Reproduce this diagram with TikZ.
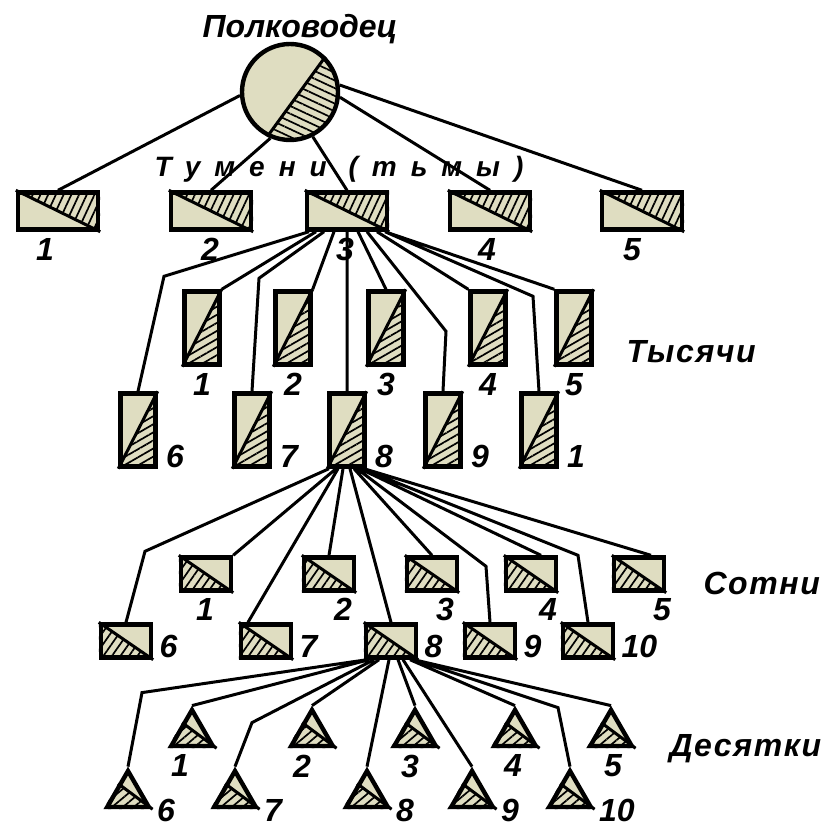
\documentclass[tikz,border=0pt]{standalone}
\usepackage{fontspec}
\setmainfont{Liberation Sans}
\usepackage{tikz}
\usetikzlibrary{shapes.geometric,patterns.meta,calc}

\definecolor{beige}{RGB}{223,221,193}

\tikzset{
  lbl/.style={font=\bfseries\itshape\fontsize{32}{32}\selectfont\addfontfeature{LetterSpace=5}, inner sep=0pt},
  num/.style={font=\bfseries\itshape\fontsize{32}{32}\selectfont, inner sep=0pt},
  unit/.style={draw, line width=4.4pt, fill=beige, inner sep=0pt},
  chief/.style={unit, circle, minimum size=96pt},
  tumen/.style={unit, minimum width=80pt, minimum height=37pt},
  thousand/.style={unit, minimum width=35pt, minimum height=73pt},
  hundred/.style={unit, minimum width=50pt, minimum height=33pt},
  ten/.style={unit, regular polygon, regular polygon sides=3, minimum size=48pt},
  hatch/.style={pattern={Lines[angle=#1,distance=7pt,line width=1.7pt]}},
}

\begin{document}
\begin{tikzpicture}[x=1pt,y=-1pt,line width=3pt]
  \useasboundingbox (0,0) rectangle (825,828);

  % commander
  \node[lbl, anchor=base] (chiefl) at (300,37) {\addfontfeature{LetterSpace=0}Полководец};
  \node[chief] (chief) at (290,92) {};
  \begin{scope}
    \clip (chief.center) circle[radius=47];
    \path[hatch=-25] ($(chief.45)!-0.5!(chief.243)$) -- ($(chief.45)!1.5!(chief.243)$)
      -- ($(chief.center)+(300,300)$) -- cycle;
  \end{scope}
  \draw (chief.45) -- (chief.243);

  % tumens
  \node[lbl, anchor=base west, font=\bfseries\itshape\fontsize{28}{28}\selectfont\addfontfeature{LetterSpace=50}]
    (tumenl) at (153,176) {Тумени (тьмы)};
  \foreach \i/\x/\dx in {1/58/-13, 2/211/-1, 3/347/-2, 4/490/-3, 5/642/-10} {
    \node[tumen] (t\i) at (\x,211) {};
    \path[hatch=65] (t\i.north west) -- (t\i.north east) -- (t\i.south east) -- cycle;
    \draw (t\i.north west) -- (t\i.south east);
    \node[num, anchor=north, xshift=\dx, yshift=-5pt] (tl\i) at (t\i.south) {\i};
  }
  \draw
    (chief.184) -- (t1.north)
    (chief.247) -- (t2.north)
    (chief.297) -- (t3.north)
    (chief.354) -- (t4.north)
    (chief.8) -- (t5.north);

  % thousands
  \node[lbl, anchor=base west] (thousandl) at (625,362) {Тысячи};
  \foreach \i/\x in {1/202, 2/293, 3/386, 4/488, 5/574} {
    \node[thousand] (k\i) at (\x,328) {};
    \node[num, anchor=north, yshift=-5pt] (kl\i) at (k\i.south) {\i};
  }
  \foreach \i/\x/\t in {6/138/6, 7/252/7, 8/347/8, 9/443/9, 10/539/1} {
    \node[thousand] (k\i) at (\x,430) {};
    \node[num, anchor=base west, xshift=7pt, yshift=1pt] (kl\i) at (k\i.south east) {\t};
  }
  \foreach \i in {1,...,10} {
    \path[hatch=30] (k\i.south west) -- (k\i.north east) -- (k\i.south east) -- cycle;
    \draw (k\i.south west) -- (k\i.north east);
  }
  \draw
    ([xshift=-38pt]t3.south) -- ([shift={(26,-115)}]k6.north) -- (k6.north)
    ([xshift=-31pt]t3.south) -- (k1.north east)
    ([xshift=-23pt]t3.south) -- ([shift={(7,-113)}]k7.north) -- (k7.north)
    ([xshift=-13pt]t3.south) -- (k2.north east)
    (t3.south) -- (k8.north)
    ([xshift=11pt]t3.south) -- (k3.north)
    ([xshift=20pt]t3.south) -- ([shift={(3,-60)}]k9.north) -- (k9.north)
    ([xshift=30pt]t3.south) -- (k4.north west)
    ([xshift=38pt]t3.south) -- ([shift={(-6,-95)}]k10.north) -- (k10.north)
    ([xshift=38pt]t3.south) -- (k5.north west);

  % hundreds
  \node[lbl, anchor=base west] (hundredl) at (702,594) {Сотни};
  \foreach \i/\x/\dx in {1/206/-1, 2/329/14, 3/432/13, 4/531/17, 5/639/23} {
    \node[hundred] (h\i) at (\x,574) {};
    \node[num, anchor=north, xshift=\dx, yshift=-4pt] (hl\i) at (h\i.south) {\i};
  }
  \foreach \i/\x in {6/126, 7/266, 8/391, 9/490, 10/588} {
    \node[hundred] (h\i) at (\x,641) {};
    \node[num, anchor=base west, xshift=5pt, yshift=2pt] (hl\i) at (h\i.south east) {\i};
  }
  \foreach \i in {1,...,10} {
    \path[hatch=55] (h\i.north west) -- (h\i.south west) -- (h\i.south east) -- cycle;
    \draw (h\i.north west) -- (h\i.south east);
  }
  \draw
    ([xshift=-18pt]k8.south) -- ([shift={(19,-71)}]h6.north) -- (h6.north)
    ([xshift=-11pt]k8.south) -- (h1.north east)
    ([xshift=-9pt]k8.south) -- ([xshift=-18pt]h7.north)
    ([xshift=-4pt]k8.south) -- (h2.north)
    ([xshift=3pt]k8.south) -- (h8.north)
    ([xshift=7pt]k8.south) -- (h3.north)
    ([xshift=10pt]k8.south) -- ([shift={(-4,-56)}]h9.north) -- (h9.north)
    ([xshift=13pt]k8.south) -- ([xshift=10pt]h4.north)
    ([xshift=15pt]k8.south) -- ([shift={(-10,-67)}]h10.north) -- (h10.north)
    ([xshift=17pt]k8.south) -- ([xshift=12pt]h5.north);

  % tens
  \node[lbl, anchor=base west] (tenl) at (668,756) {Десятки};
  \foreach \i/\x/\dx in {1/192/-12, 2/312/-10, 3/415/-5, 4/515/-2, 5/611/2} {
    \node[ten] (d\i) at (\x,734) {};
    \node[num, anchor=north, xshift=\dx, yshift=-5pt] (dl\i) at (d\i.south) {\i};
  }
  \foreach \i/\x in {6/128, 7/235, 8/367, 9/472, 10/570} {
    \node[ten] (d\i) at (\x,795) {};
    \node[num, anchor=base west, xshift=3pt, yshift=-12pt] (dl\i) at (d\i.corner 3) {\i};
  }
  \foreach \i in {1,...,10} {
    \path[hatch=40] ($(d\i.corner 1)!0.4!(d\i.corner 2)$) -- (d\i.corner 2) -- (d\i.corner 3) -- cycle;
    \draw ($(d\i.corner 1)!0.4!(d\i.corner 2)$) -- (d\i.corner 3);
  }
  \draw
    ([xshift=-24pt]h8.south) -- ([shift={(14,-74)}]d6.corner 1) -- (d6.corner 1)
    ([xshift=-22pt]h8.south) -- (d1.corner 1)
    ([xshift=-17pt]h8.south) -- ([shift={(17,-44)}]d7.corner 1) -- (d7.corner 1)
    ([xshift=-12pt]h8.south) -- (d2.corner 1)
    ([xshift=-2pt]h8.south) -- (d8.corner 1)
    ([xshift=7pt]h8.south) -- (d3.corner 1)
    ([xshift=12pt]h8.south) -- (d9.corner 1)
    ([xshift=19pt]h8.south) -- (d4.corner 1)
    ([xshift=23pt]h8.south) -- ([shift={(-12,-59)}]d10.corner 1) -- (d10.corner 1)
    ([xshift=23pt]h8.south) -- (d5.corner 1);
\end{tikzpicture}
\end{document}
